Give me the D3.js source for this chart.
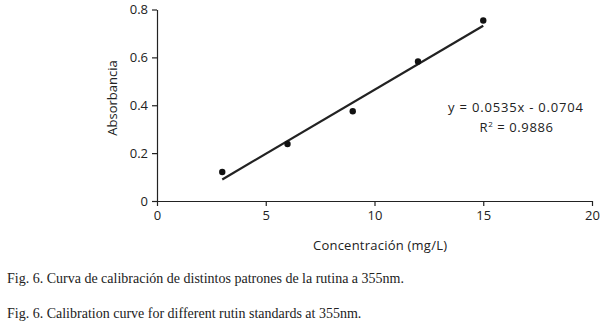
<!DOCTYPE html>
<html>
<head>
<meta charset="utf-8">
<script src="https://cdn.jsdelivr.net/npm/d3@7"></script>
<style>
  body { margin: 0; background: #fff; }
  svg { display: block; }
  .axis text { font-family: 'Open Sans', sans-serif; font-size: 13px; fill: #222; }
  .axis path, .axis line { stroke: #222; stroke-width: 1.2px; }
  .label { font-family: 'Open Sans', sans-serif; font-size: 13px; fill: #222; }
  .caption { font-family: 'Liberation Serif', 'Times New Roman', serif; font-size: 14px; fill: #222; }
</style>
</head>
<body>
<svg width="604" height="328"></svg>
<script>
// Calibration standards: concentration (mg/L) and absorbance
var concentrations = [3, 6, 9, 12, 15];
var absorbances = [0.121, 0.238, 0.375, 0.583, 0.754];

// Fitted line as printed on the chart
var slope = 0.0535;
var intercept = -0.0704;
var trendRange = [3, 15];

var xTicks = [0, 5, 10, 15, 20];
var yTicks = [0, 0.2, 0.4, 0.6, 0.8];

var svg = d3.select('svg');

var padding = {t: 9.5, r: 12, b: 127, l: 157};
var chartWidth = 592 - padding.l;
var chartHeight = 201 - padding.t;

var xScale = d3.scaleLinear().domain([0, 20]).range([0, chartWidth]);
var yScale = d3.scaleLinear().domain([0, 0.8]).range([chartHeight, 0]);

var chartG = svg.append('g')
    .attr('transform', 'translate(' + [padding.l, padding.t] + ')');

// y axis
chartG.append('g')
    .attr('class', 'y axis')
    .call(d3.axisLeft(yScale).tickValues(yTicks).tickSize(5).tickSizeOuter(0)
        .tickFormat(function(d) { return d === 0 ? '0' : d3.format('.1f')(d); }))
    .call(function(g) { g.selectAll('text').attr('x', -9); });

// x axis
chartG.append('g')
    .attr('class', 'x axis')
    .attr('transform', 'translate(' + [0, chartHeight] + ')')
    .call(d3.axisBottom(xScale).tickValues(xTicks).tickSize(5).tickSizeOuter(0))
    .call(function(g) { g.selectAll('text').attr('y', 10); });

// trend line
var trend = trendRange.map(function(x) { return {x: x, y: slope * x + intercept}; });
chartG.append('line')
    .attr('x1', xScale(trend[0].x))
    .attr('y1', yScale(trend[0].y))
    .attr('x2', xScale(trend[1].x))
    .attr('y2', yScale(trend[1].y))
    .attr('stroke', '#222')
    .attr('stroke-width', 2.2);

// points
chartG.selectAll('.dot')
    .data(concentrations)
    .enter()
    .append('circle')
    .attr('class', 'dot')
    .attr('cx', function(d) { return xScale(d); })
    .attr('cy', function(d, i) { return yScale(absorbances[i]); })
    .attr('r', 3.2)
    .attr('fill', '#111');

// equation text
svg.append('text')
    .attr('class', 'label')
    .attr('x', 515.5)
    .attr('y', 112)
    .attr('text-anchor', 'middle')
    .attr('textLength', 135)
    .attr('lengthAdjust', 'spacing')
    .text('y = 0.0535x - 0.0704');

var r2 = svg.append('text')
    .attr('class', 'label')
    .attr('x', 516.5)
    .attr('y', 132)
    .attr('text-anchor', 'middle')
    .attr('letter-spacing', '0.6px');
r2.append('tspan').text('R');
r2.append('tspan').attr('dy', -5).attr('font-size', '8px').text('2');
r2.append('tspan').attr('dy', 5).text(' = 0.9886');

// axis labels
svg.append('text')
    .attr('class', 'label')
    .attr('transform', 'translate(' + [117, 98] + ') rotate(-90)')
    .attr('text-anchor', 'middle')
    .text('Absorbancia');

svg.append('text')
    .attr('class', 'label')
    .attr('x', 380)
    .attr('y', 250)
    .attr('text-anchor', 'middle')
    .attr('textLength', 134)
    .attr('lengthAdjust', 'spacing')
    .text('Concentración (mg/L)');

// captions
svg.append('text')
    .attr('class', 'caption')
    .attr('x', 7)
    .attr('y', 283)
    .text('Fig. 6. Curva de calibración de distintos patrones de la rutina a 355nm.');

svg.append('text')
    .attr('class', 'caption')
    .attr('x', 7)
    .attr('y', 318)
    .text('Fig. 6. Calibration curve for different rutin standards at 355nm.');
</script>
</body>
</html>
